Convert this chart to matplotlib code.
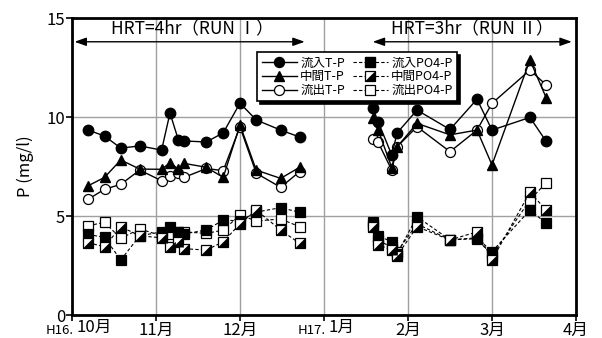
import matplotlib
matplotlib.use("Agg")
import matplotlib.pyplot as plt
from matplotlib.lines import Line2D
import pandas as pd

plt.rcParams['font.family'] = ['Noto Sans CJK JP', 'DejaVu Sans']

# sampling dates
dates1 = ['2004-10-07', '2004-10-13', '2004-10-19', '2004-10-26', '2004-11-03', '2004-11-06',
          '2004-11-09', '2004-11-11', '2004-11-19', '2004-11-25', '2004-12-01', '2004-12-07',
          '2004-12-16', '2004-12-23']
dates2 = ['2005-01-19', '2005-01-21', '2005-01-26', '2005-01-28', '2005-02-04', '2005-02-15',
          '2005-02-24', '2005-03-01', '2005-03-15', '2005-03-21']

# RUN I (mg/l)
inf_tp1 = [9.34, 9.04, 8.43, 8.54, 8.33, 10.2, 8.84, 8.79, 8.74, 9.2, 10.7, 9.85, 9.34, 8.99]
mid_tp1 = [6.53, 6.95, 7.83, 7.37, 7.36, 7.69, 7.37, 7.66, 7.46, 6.95, 9.6, 7.32, 6.9, 7.46]
eff_tp1 = [5.85, 6.35, 6.6, 7.32, 6.78, 7.02, 7.16, 6.95, 7.4, 7.29, 9.5, 7.16, 6.45, 7.24]
inf_po1 = [4.07, 3.92, 2.78, 4.0, 4.2, 4.45, 4.2, 4.1, 4.29, 4.8, 4.75, 5.2, 5.42, 5.19]
mid_po1 = [3.65, 3.45, 4.46, 4.0, 3.9, 3.45, 3.7, 3.35, 3.28, 3.7, 4.6, 5.3, 4.29, 3.62]
eff_po1 = [4.51, 4.68, 3.87, 4.35, 4.0, 4.1, 4.2, 4.2, 4.12, 4.29, 5.05, 4.75, 4.85, 4.46]

# RUN II (mg/l)
inf_tp2 = [10.47, 9.76, 8.08, 9.2, 10.35, 9.37, 10.9, 9.34, 9.98, 8.77]
mid_tp2 = [9.97, 9.34, 7.45, 8.5, 9.68, 9.1, 9.34, 7.58, 12.88, 10.97]
eff_tp2 = [8.87, 8.72, 7.32, 8.5, 9.51, 8.25, 9.34, 10.69, 12.37, 11.62]
inf_po2 = [4.7, 4.0, 3.7, 3.1, 4.96, 3.8, 3.9, 3.2, 5.3, 4.63]
mid_po2 = [4.45, 3.55, 3.28, 3.0, 4.46, 3.79, 4.2, 2.78, 6.2, 5.3]
eff_po2 = [4.55, 3.8, 3.4, 3.2, 4.6, 3.8, 3.85, 3.0, 5.81, 6.68]

month_labels = ['10月', '11月', '12月', '1月', '2月', '3月', '4月']


def to_month(ds):
    # months since 2004-10-01, each month the same width
    d = pd.to_datetime(pd.Series(ds))
    idx = (d.dt.year - 2004) * 12 + d.dt.month - 10
    return (idx + (d.dt.day - 1) / d.dt.days_in_month).to_numpy()


x1 = to_month(dates1)
x2 = to_month(dates2)

fig = plt.figure(figsize=(6.02, 3.38), dpi=100)
ax = fig.add_axes([0.1196, 0.068, 0.8372, 0.8787])

tri = [(1, -1), (1, 1), (-1, -1)]
ms = 7.2


def draw(x, inf_tp, mid_tp, eff_tp, inf_po, mid_po, eff_po):
    ax.plot(x, eff_po, ls=(0, (3, 2)), lw=0.8, color='k', marker='s', ms=ms,
            mfc='white', mec='k', mew=0.9)
    ax.plot(x, inf_po, ls=(0, (3, 2)), lw=0.8, color='k', marker='s', ms=ms,
            mfc='k', mec='k', mew=0.9)
    ax.plot(x, mid_po, ls=(0, (3, 2)), lw=0.8, color='k', marker='s', ms=ms,
            mfc='white', mec='k', mew=0.9)
    ax.plot(x, mid_po, ls='none', marker=tri, ms=ms, mfc='k', mec='k', mew=0.5)
    ax.plot(x, eff_tp, '-', lw=1.0, color='k', marker='o', ms=ms, mfc='white', mec='k', mew=0.9)
    ax.plot(x, mid_tp, '-', lw=1.0, color='k', marker='^', ms=ms, mfc='k', mec='k')
    ax.plot(x, inf_tp, '-', lw=1.0, color='k', marker='o', ms=ms + 0.3, mfc='k', mec='k')


draw(x1, inf_tp1, mid_tp1, eff_tp1, inf_po1, mid_po1, eff_po1)
draw(x2, inf_tp2, mid_tp2, eff_tp2, inf_po2, mid_po2, eff_po2)

ax.set_xlim(0, 6)
ax.set_ylim(0, 15)
ax.set_xticks(range(7))
ax.set_xticklabels(['', '11月', '12月', '', '2月', '3月', '4月'], fontsize=12)
ax.set_yticks([0, 5, 10, 15])
ax.set_yticklabels(['0', '5', '10', '15'], fontsize=12)
ax.tick_params(direction='out', length=4, width=1.2, pad=1)
ax.grid(True, color='#a0a0a0', lw=1.0)
ax.set_axisbelow(True)
for s in ax.spines.values():
    s.set_linewidth(2)
ax.set_ylabel('P (mg/l)', fontsize=12, labelpad=9)

# H16./H17. labels with small era prefix
for xi, era, m in [(0, 'H16.', '10月'), (3, 'H17.', '1月')]:
    ax.annotate(m, xy=(xi, 0), xycoords=('data', 'axes fraction'), xytext=(3, -3),
                textcoords='offset points', ha='left', va='top', fontsize=12)
    ax.annotate(era, xy=(xi, 0), xycoords=('data', 'axes fraction'), xytext=(1.5, -6.5),
                textcoords='offset points', ha='right', va='top', fontsize=9.5)

# run periods
arr = dict(arrowstyle='<|-|>,head_length=0.7,head_width=0.25', color='k', lw=1.0,
           shrinkA=0, shrinkB=0)
ax.annotate('', xy=(0.03, 13.8), xytext=(2.77, 13.8), arrowprops=arr)
ax.annotate('', xy=(3.58, 13.8), xytext=(5.95, 13.8), arrowprops=arr)
ax.text(1.43, 14.45, 'HRT=4hr（RUN Ⅰ）', ha='center', va='center', fontsize=12.5)
ax.text(4.76, 14.45, 'HRT=3hr（RUN Ⅱ）', ha='center', va='center', fontsize=12.5)

# legend
h_inf = Line2D([], [], color='k', lw=1.0, marker='o', ms=ms, mfc='k')
h_mid = Line2D([], [], color='k', lw=1.0, marker='^', ms=ms, mfc='k')
h_eff = Line2D([], [], color='k', lw=1.0, marker='o', ms=ms, mfc='white', mew=0.9)
h_pinf = Line2D([], [], color='k', lw=0.8, ls=(0, (3, 2)), marker='s', ms=ms, mfc='k')
h_pmid = (Line2D([], [], color='k', lw=0.8, ls=(0, (3, 2)), marker='s', ms=ms, mfc='white', mew=0.9),
          Line2D([], [], ls='none', marker=tri, ms=ms, mfc='k', mec='k', mew=0.5))
h_peff = Line2D([], [], color='k', lw=0.8, ls=(0, (3, 2)), marker='s', ms=ms, mfc='white', mew=0.9)
leg = ax.legend([h_inf, h_mid, h_eff, h_pinf, h_pmid, h_peff],
                ['流入T-P', '中間T-P', '流出T-P', '流入PO4-P', '中間PO4-P', '流出PO4-P'],
                ncol=2, loc='upper left', bbox_to_anchor=(0.355, 0.905), fontsize=9,
                handlelength=2.8, handletextpad=0.3, columnspacing=0.6, labelspacing=0.05,
                borderpad=0.35, fancybox=False, framealpha=1, edgecolor='k',
                shadow={'color': 'black', 'alpha': 1})
leg.get_frame().set_linewidth(1.2)

fig.savefig('out.png', dpi=100)
